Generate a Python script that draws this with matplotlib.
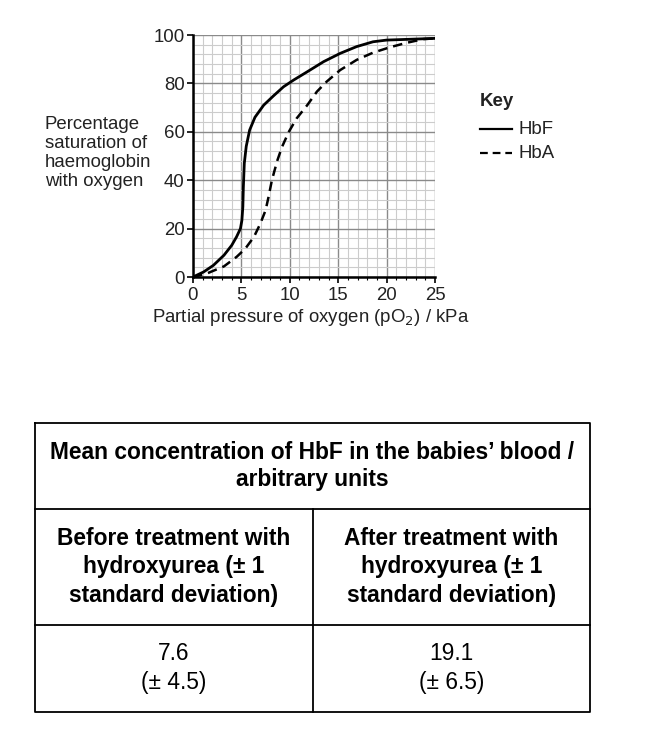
"""Oxygen dissociation curves for HbF / HbA plus the hydroxyurea HbF table."""

import matplotlib

matplotlib.use("Agg")
import matplotlib.pyplot as plt
from matplotlib.ticker import MultipleLocator

# values
hbf_po2 = [0, 1.1, 2.1, 3.2, 4.0, 4.5, 4.9, 5.05, 5.15, 5.2, 5.3, 5.5, 5.85, 6.4,
           7.3, 8.3, 9.35, 10.4, 11.8, 13.5, 15.2, 16.9, 18.6, 20.0, 25.0]
hbf_sat = [0, 2.1, 4.8, 9.0, 13.1, 16.6, 20, 23.4, 29, 37, 47, 54, 60.7, 66,
           71, 74.8, 78.6, 81.4, 84.8, 89, 92.4, 95.2, 97.2, 97.9, 98.6]

hba_po2 = [0, 1.4, 3.2, 4.5, 5.4, 6.3, 6.95, 7.5, 7.8, 8.15, 8.7, 9.2, 9.9, 10.7,
           11.8, 12.8, 13.8, 15.2, 16.9, 18.6, 20.4, 22.1, 23.8, 25.0]
hba_sat = [0, 1.4, 4.4, 8.3, 11.7, 16.6, 22, 27.6, 33, 40, 48, 53.8, 60, 65.5,
           71, 76.6, 80.7, 85.5, 89.7, 92.7, 95, 96.8, 98.3, 98.6]

x_ticks = [0, 5, 10, 15, 20, 25]
y_ticks = [0, 20, 40, 60, 80, 100]

table_title = "Mean concentration of HbF in the babies\u2019 blood /\narbitrary units"
table_headers = ["Before treatment with\nhydroxyurea (\u00b1 1\nstandard deviation)",
                 "After treatment with\nhydroxyurea (\u00b1 1\nstandard deviation)"]
table_means = ["7.6", "19.1"]
table_sds = ["4.5", "6.5"]

W, H = 668, 742
FONT = "Liberation Sans"
FS = 13.4
TFS = 16.4

plt.rcParams["font.family"] = FONT

fig = plt.figure(figsize=(W / 100, H / 100), dpi=100)


def fx(px):
    return px / W


def fy(py):
    return 1 - py / H


# --- graph ---------------------------------------------------------------
ax = fig.add_axes([fx(193), fy(277), fx(435) - fx(193), fy(35) - fy(277)])
ax.plot(hbf_po2, hbf_sat, color="black", lw=2.0, solid_capstyle="round", zorder=3)
ax.plot(hba_po2, hba_sat, color="black", lw=1.8, dashes=(3.8, 2.4), zorder=3)

ax.set_xlim(0, 25)
ax.set_ylim(0, 100)
ax.set_xticks(x_ticks)
ax.set_yticks(y_ticks)
ax.xaxis.set_minor_locator(MultipleLocator(1))
ax.yaxis.set_minor_locator(MultipleLocator(4))
ax.grid(which="minor", color="#cccccc", lw=0.8)
ax.grid(which="major", color="#8a8a8a", lw=1.0)
ax.set_axisbelow(True)
for side in ("top", "right"):
    ax.spines[side].set_visible(False)
for side in ("left", "bottom"):
    ax.spines[side].set_linewidth(1.8)
    ax.spines[side].set_zorder(4)
ax.tick_params(which="major", direction="out", length=4, width=1.2,
               labelsize=FS, colors="black")
ax.tick_params(axis="x", which="major", pad=3)
ax.tick_params(axis="y", which="major", pad=2)
ax.tick_params(which="minor", direction="out", length=2, width=0.8)
ax.tick_params(axis="y", which="minor", length=0)
for lab in ax.get_xticklabels() + ax.get_yticklabels():
    lab.set_color("#222222")

fig.text(fx(45), fy(153), "Percentage\nsaturation of\nhaemoglobin\nwith oxygen",
         ha="left", va="center", fontsize=FS, linespacing=1.17, color="#222222")
fig.text(fx(311), fy(318), "Partial pressure of oxygen (pO$_2$) / kPa",
         ha="center", va="center", fontsize=FS, color="#222222")

# key
fig.text(fx(480), fy(102), "Key", ha="left", va="center", fontsize=FS,
         fontweight="bold", color="#222222")
fig.add_artist(plt.Line2D([fx(480), fx(512)], [fy(129), fy(129)],
                          color="black", lw=1.6))
fig.add_artist(plt.Line2D([fx(480), fx(512)], [fy(153), fy(153)],
                          color="black", lw=1.6, dashes=(3.5, 2.2)))
fig.text(fx(518), fy(129), "HbF", ha="left", va="center", fontsize=FS, color="#222222")
fig.text(fx(518), fy(153), "HbA", ha="left", va="center", fontsize=FS, color="#222222")

# --- table ---------------------------------------------------------------
tab = fig.add_axes([0, 0, 1, 1])
tab.set_xlim(0, W)
tab.set_ylim(H, 0)
tab.axis("off")

left, right, mid = 35, 590, 313
top, row1, row2, bottom = 423, 509, 625, 712
lw = 1.3
tab.plot([left, right, right, left, left], [top, top, bottom, bottom, top],
         color="black", lw=lw)
tab.plot([left, right], [row1, row1], color="black", lw=lw)
tab.plot([left, right], [row2, row2], color="black", lw=lw)
tab.plot([mid, mid], [row1, bottom], color="black", lw=lw)

tab.text((left + right) / 2, 466, table_title, ha="center",
         va="center", fontsize=TFS, fontweight="bold", linespacing=1.27)
for cx, head, mean, sd in zip([(left + mid) / 2, (mid + right) / 2],
                              table_headers, table_means, table_sds):
    tab.text(cx, 567, head, ha="center", va="center",
             fontsize=TFS, fontweight="bold", linespacing=1.3)
    tab.text(cx, 668, f"{mean}\n(\u00b1 {sd})", ha="center",
             va="center", fontsize=TFS, linespacing=1.33)

fig.savefig("out.png", dpi=100, facecolor="white")
